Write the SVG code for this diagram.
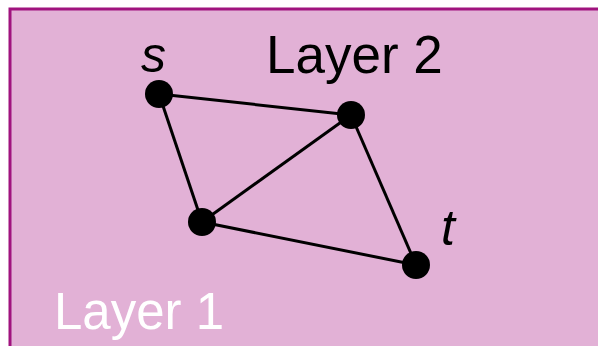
<svg xmlns="http://www.w3.org/2000/svg" width="598" height="346" viewBox="0 0 598 346">
<style>
.edge{stroke:#000;stroke-width:3;fill:none}
.node{fill:#000}
.lbl{font-family:"Liberation Sans",Arial,sans-serif;font-size:53px;fill:#000}
.it{font-style:italic;font-size:50px}
</style>
<rect x="0" y="0" width="598" height="346" fill="#fff"/>
<g id="layer1">
<rect x="10" y="9" width="600" height="360" fill="#E2B1D6" stroke="#A0137E" stroke-width="3"/>
<text x="54" y="329" class="lbl" style="fill:#fff;font-size:51px">Layer 1</text>
</g>
<text x="266" y="73" class="lbl">Layer 2</text>
<g id="connectors">
<line class="edge" x1="159" y1="94" x2="351" y2="115"/>
<line class="edge" x1="159" y1="94" x2="202" y2="222"/>
<line class="edge" x1="351" y1="115" x2="202" y2="222"/>
<line class="edge" x1="351" y1="115" x2="416" y2="265"/>
<line class="edge" x1="202" y1="222" x2="416" y2="265"/>
</g>
<g id="s"><circle class="node" cx="159" cy="94" r="14"/><text x="141" y="72" class="lbl it">s</text></g>
<g id="n2"><circle class="node" cx="351" cy="115" r="14"/></g>
<g id="n3"><circle class="node" cx="202" cy="222" r="14"/></g>
<g id="t"><circle class="node" cx="416" cy="265" r="14"/><text x="441" y="245" class="lbl it">t</text></g>
</svg>
